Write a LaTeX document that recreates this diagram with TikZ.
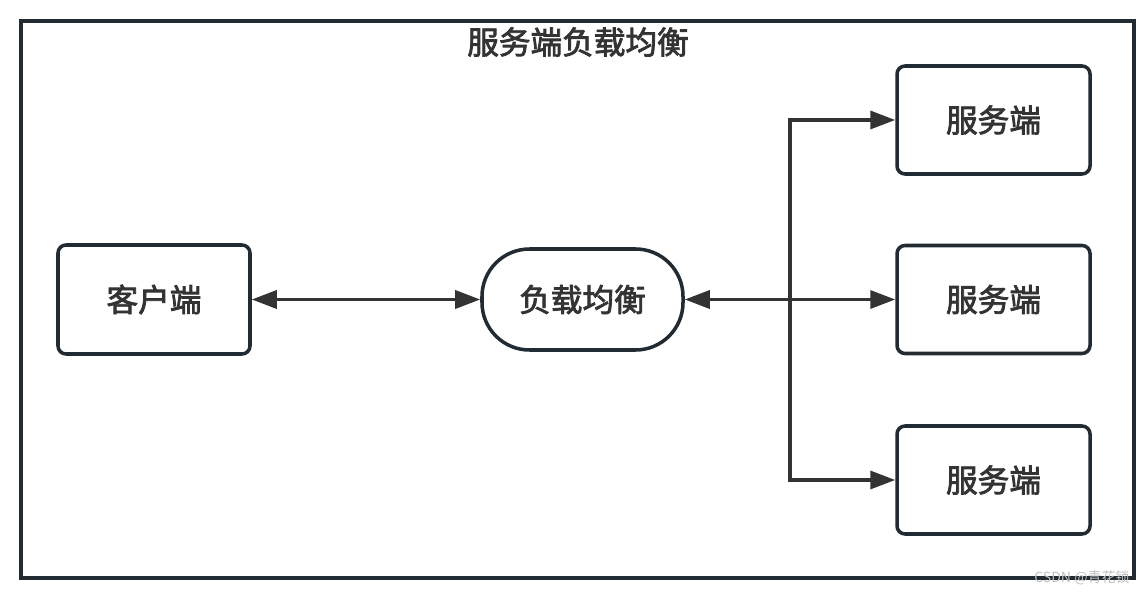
\documentclass[tikz,border=0pt]{standalone}
\usepackage{fontspec}
\newfontfamily\cjk[FakeBold=2.5]{Noto Sans CJK SC}
\newfontfamily\cjklight{Noto Sans CJK SC}
\usetikzlibrary{arrows.meta}
\definecolor{edgegray}{HTML}{333333}
\definecolor{boxline}{HTML}{222A32}
\tikzset{
  box/.style={draw=boxline,line width=2pt,rounded corners=0.16cm,
    minimum width=3.86cm,minimum height=2.16cm,font=\cjk\fontsize{18}{20}\selectfont,text=edgegray},
  lbbox/.style={box,rounded corners=0.95cm,minimum width=4.02cm,minimum height=2.02cm},
  link/.style={draw=edgegray,line width=2pt,{Triangle[length=0.5cm,width=0.36cm]}-{Triangle[length=0.5cm,width=0.36cm]}},
  branch/.style={draw=edgegray,line width=2pt,-{Triangle[length=0.5cm,width=0.36cm]}}
}
\begin{document}
\begin{tikzpicture}
    [inner sep=0pt]
    \useasboundingbox (0,0) rectangle (22.92,11.92);

    % frame:
    \node (frame) at (11.55, 5.93) [draw=boxline,line width=2.1pt,minimum width=22.26cm,minimum height=11.14cm] {};
    \node (title) at (11.56, 11.08) [font=\cjk\fontsize{18}{20}\selectfont,text=edgegray] {服务端负载均衡};

    % client:
    \node (client) at (3.08, 5.93) [box,minimum width=3.84cm,minimum height=2.18cm] {客户端};

    % load balancer:
    \node (lb) at (11.65, 5.93) [lbbox] {负载均衡};

    % servers:
    \node (srv1) at (19.87, 9.52) [box] {服务端};
    \node (srv2) at (19.87, 5.93) [box] {服务端};
    \node (srv3) at (19.87, 2.32) [box] {服务端};

    % branch point:
    \coordinate (jn) at (15.8, 5.93);

    % connect nodes:
    \draw [link] (client) to (lb);
    \draw [link] (lb) to (srv2);
    \draw [branch] (jn) |- (srv1);
    \draw [branch] (jn) |- (srv3);

    % watermark:
    \node (mark) at (21.64, 0.36) [font=\cjklight\fontsize{8}{9}\selectfont,text=black!25] {CSDN @青花锁};

  \end{tikzpicture}
\end{document}
